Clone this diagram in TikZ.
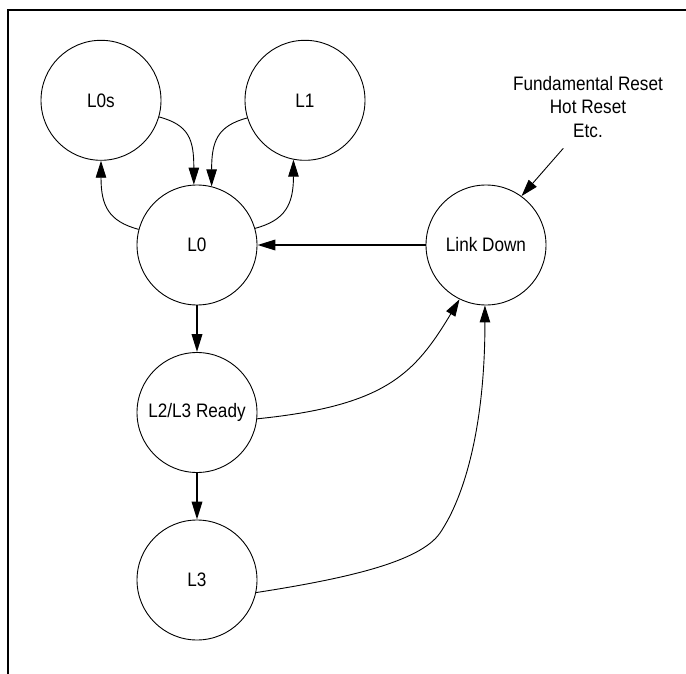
\documentclass[tikz,border=0pt]{standalone}
\usepackage{fontspec}
\setmainfont{Liberation Sans}[FakeStretch=0.88]
\usetikzlibrary{arrows.meta}

\begin{document}
\begin{tikzpicture}[x=1pt,y=-1pt,
  state/.style={draw, circle, line width=0.9pt, minimum size=120pt, inner sep=0pt,
    font=\fontsize{19.5}{23.8}\selectfont},
  thinflow/.style={line width=0.9pt, -{Triangle[length=17pt,width=10.5pt]}},
  thickflow/.style={line width=2pt, -{Triangle[length=18pt,width=10.5pt]}}]
% page and frame
\fill[white] (0,0) rectangle (686,674);
\useasboundingbox (0,0) rectangle (686,674);
\draw[line width=2pt] (7.7,674) -- (7.7,10.3) -- (686,10.3);

% power states
\node[state] (l0s) at (101,100.3) {L0s};
\node[state] (l1) at (305,100.3) {L1};
\node[state] (l0) at (197,245) {L0};
\node[state] (linkdown) at (486,245) {Link Down};
\node[state] (l2l3) at (197,412.5) {L2/L3 Ready};
\node[state] (l3) at (197,580) {L3};

% reset sources
\node[font=\fontsize{19.5}{23.8}\selectfont, align=center, inner sep=0pt] (resets) at (588,107)
  {Fundamental Reset\\Hot Reset\\Etc.};
\coordinate (resettail) at (563.3,148.3);
\coordinate (l3bend) at (440,533);

% transitions
\draw[thinflow] (l0s.-16) .. controls +(30,8) and +(0,-45) .. (l0.93);
\draw[thinflow] (l1.-163) .. controls +(-30,8) and +(0,-45) .. (l0.76);
\draw[thinflow] (l0.165) .. controls +(-30,-8) and +(0,45) .. (l0s.-90);
\draw[thinflow] (l0.16) .. controls +(30,-8) and +(0,45) .. (l1.-101);
\draw[thickflow] (linkdown) -- (l0);
\draw[thickflow] (l0) -- (l2l3);
\draw[thickflow] (l2l3) -- (l3);
\draw[thinflow] (resettail) -- (linkdown.54);
\draw[thinflow] (l2l3.-6) .. controls +(128,-13) and +(-45,75) .. (linkdown.-116);
\draw[thinflow] (l3.-12) .. controls +(90,-14) and +(-20,29) .. (l3bend)
  .. controls +(25,-37) and +(0,120) .. (linkdown.-91);
\end{tikzpicture}
\end{document}
